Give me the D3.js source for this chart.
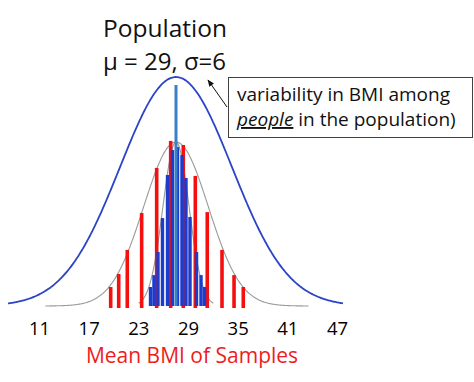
<!DOCTYPE html>
<html>
<head>
<meta charset="utf-8">
<script src="https://cdn.jsdelivr.net/npm/d3@7"></script>
<style>
  html, body { margin: 0; padding: 0; background: #fff; }
  svg { display: block; }
  text { font-family: "Open Sans", "Noto Sans", sans-serif; }
</style>
</head>
<body>
<script>
// ---------------- data ----------------
const tickLabels = ["11", "17", "23", "29", "35", "41", "47"];
const popMean = 29;
const popSD = 6;
const wideSD = 3.46;   // sampling distribution drawn in gray (wide)
const narrowSD = 1.4;  // sampling distribution drawn in gray (narrow)
const curvePeak = 1.0;      // relative height of population curve
const samplePeak = 0.716;   // relative height of sampling curves
const meanLineHeight = 0.965;

// red bars: mean BMI of small samples (value, relative frequency)
const redMeans   = [22.00, 22.86, 23.78, 25.32, 26.93, 28.43, 29.78, 31.07, 32.35, 33.93, 35.22, 36.21];
const redHeights = [0.083, 0.140, 0.245, 0.406, 0.603, 0.721, 0.703, 0.568, 0.410, 0.245, 0.135, 0.083];

// blue bars: mean BMI of large samples
const blueMeans   = [26.27, 26.64, 27.07, 27.55, 28.09, 28.62, 29.16, 29.64, 30.07, 30.50, 31.20, 31.68, 32.05];
const blueHeights = [0.083, 0.135, 0.236, 0.384, 0.572, 0.681, 0.694, 0.659, 0.559, 0.389, 0.236, 0.135, 0.083];

const titleLines = ["Population", "\u03bc = 29, \u03c3=6"];
const noteLine1 = "variability in BMI among";
const noteLine2a = "people";
const noteLine2b = " in the population)";
const xTitle = "Mean BMI of Samples";

// ---------------- drawing ----------------
const W = 474, H = 382;
const svg = d3.select("body").append("svg").attr("width", W).attr("height", H);

const x = d3.scaleLinear().domain([29 - 18.86, 29 + 18.86]).range([0, 352]); // 29 -> 176
const y = d3.scaleLinear().domain([0, 1]).range([306, 77]);
const tickScale = d3.scalePoint().domain(tickLabels).range([39, 337]);

function gauss(mu, sd, peak) {
  return v => peak * Math.exp(-0.5 * ((v - mu) / sd) ** 2);
}
function curvePts(mu, sd, peak, lo, hi) {
  const f = gauss(mu, sd, peak);
  return d3.range(lo, hi + 0.0001, (hi - lo) / 300).map(v => [v, f(v)]);
}
const line = d3.line().x(d => x(d[0])).y(d => y(d[1])).curve(d3.curveBasis);

// gray sampling curves
svg.append("path")
  .attr("d", line(curvePts(popMean, wideSD, samplePeak, 15.0, 43.2)))
  .attr("fill", "none").attr("stroke", "#9a9a9a").attr("stroke-width", 1.1);
svg.append("path")
  .attr("d", line(curvePts(popMean, narrowSD, samplePeak, 25.0, 33.0)))
  .attr("fill", "none").attr("stroke", "#9a9a9a").attr("stroke-width", 1.1);

// population curve
svg.append("path")
  .attr("d", line(curvePts(popMean, popSD, curvePeak, 11.0, 46.9)))
  .attr("fill", "none").attr("stroke", "#2c44c8").attr("stroke-width", 1.8);

// red bars
const rw = 3.6;
svg.append("g").selectAll("rect").data(redMeans).join("rect")
  .attr("x", d => x(d) - rw / 2)
  .attr("y", (d, i) => y(redHeights[i]))
  .attr("width", rw)
  .attr("height", (d, i) => y(0) + 2 - y(redHeights[i]))
  .attr("fill", "#f51010");

// blue bars
const bw = 3.4;
svg.append("g").selectAll("rect").data(blueMeans).join("rect")
  .attr("x", d => x(d) - bw / 2)
  .attr("y", (d, i) => y(blueHeights[i]))
  .attr("width", bw)
  .attr("height", (d, i) => y(0) - y(blueHeights[i]))
  .attr("fill", "#1c3ccc");

// mean line
svg.append("line")
  .attr("x1", x(popMean)).attr("x2", x(popMean))
  .attr("y1", y(meanLineHeight)).attr("y2", y(0))
  .attr("stroke", "#3a80c4").attr("stroke-width", 3);

// x axis tick labels
const axisG = svg.append("g").attr("transform", "translate(0,306)")
  .call(d3.axisBottom(tickScale).tickSize(0).tickPadding(15.5));
axisG.select(".domain").remove();
axisG.selectAll("text")
  .attr("font-family", "'Open Sans', sans-serif")
  .attr("font-size", 18.5).attr("fill", "#000");

// x title
svg.append("text").attr("x", 192).attr("y", 363).attr("text-anchor", "middle")
  .attr("font-size", 21).attr("fill", "#ee1c1c").text(xTitle);

// title
svg.append("text").attr("x", 103).attr("y", 37).attr("font-size", 24.5).attr("fill", "#111").text(titleLines[0]);
svg.append("text").attr("x", 103).attr("y", 70).attr("font-size", 24).attr("fill", "#111").text(titleLines[1]);

// annotation box
svg.append("rect").attr("x", 228.5).attr("y", 77.5).attr("width", 244).attr("height", 60)
  .attr("fill", "#fff").attr("stroke", "#404040").attr("stroke-width", 1);
svg.append("text").attr("x", 237).attr("y", 101).attr("font-size", 19).attr("fill", "#111").text(noteLine1);
const t2 = svg.append("text").attr("x", 237).attr("y", 126).attr("font-size", 19).attr("fill", "#111");
t2.append("tspan").attr("font-style", "italic").attr("text-decoration", "underline").text(noteLine2a);
t2.append("tspan").text(noteLine2b);

// arrow
const defs = svg.append("defs");
defs.append("marker").attr("id", "ah").attr("viewBox", "0 0 10 10").attr("refX", 9).attr("refY", 5)
  .attr("markerWidth", 7).attr("markerHeight", 7).attr("orient", "auto")
  .append("path").attr("d", "M0,1 L10,5 L0,9 z").attr("fill", "#111");
svg.append("line").attr("x1", 227).attr("y1", 107).attr("x2", 208).attr("y2", 80)
  .attr("stroke", "#111").attr("stroke-width", 1).attr("marker-end", "url(#ah)");
</script>
</body>
</html>
